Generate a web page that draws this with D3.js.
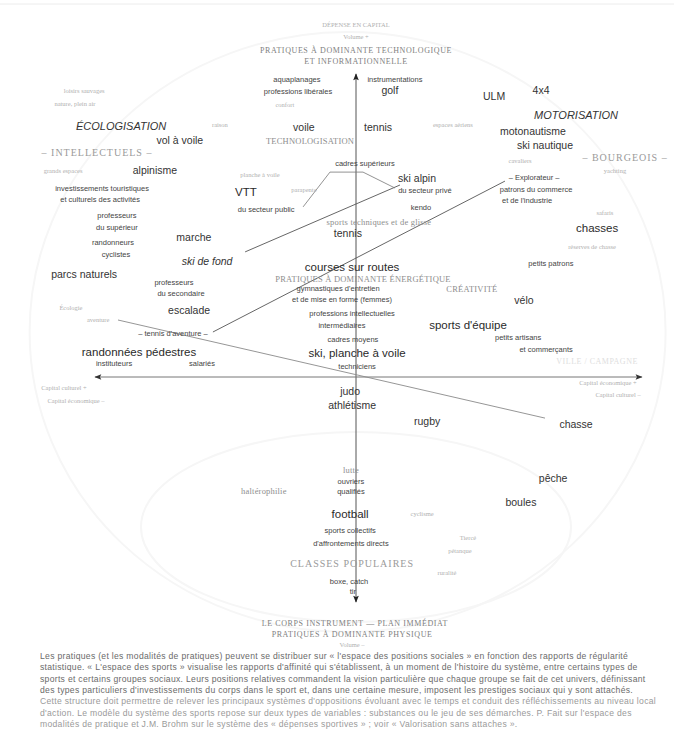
<!DOCTYPE html>
<html>
<head>
<meta charset="utf-8">
<script src="https://cdn.jsdelivr.net/npm/d3@7"></script>
<style>
	html, body { margin: 0; padding: 0; background: #fff; }
	svg { display: block; }
</style>
</head>
<body>
<svg id="espace-sports"></svg>
<script>
// l'espace des sports : chaque terme est placé sur les deux axes (capital culturel / économique, volume)
var termes = [
	"DÉPENSE EN CAPITAL", "Volume +", "PRATIQUES À DOMINANTE TECHNOLOGIQUE", "ET INFORMATIONNELLE",
	"aquaplanages", "instrumentations", "professions libérales", "golf", "ULM", "4x4",
	"loisirs sauvages", "nature, plein air", "confort", "MOTORISATION", "ÉCOLOGISATION", "raison",
	"voile", "tennis", "espaces aériens", "motonautisme", "vol à voile", "TECHNOLOGISATION",
	"ski nautique", "– INTELLECTUELS –", "– BOURGEOIS –", "cavaliers", "cadres supérieurs", "alpinisme",
	"grands espaces", "yachting", "planche à voile", "ski alpin", "– Explorateur –",
	"investissements touristiques", "VTT", "parapente", "du secteur privé", "patrons du commerce",
	"et culturels des activités", "et de l'industrie", "du secteur public", "kendo", "safaris",
	"professeurs", "sports techniques et de glisse", "du supérieur", "chasses", "tennis", "marche",
	"randonneurs", "réserves de chasse", "cyclistes", "ski de fond", "petits patrons",
	"courses sur routes", "parcs naturels", "PRATIQUES À DOMINANTE ÉNERGÉTIQUE", "professeurs",
	"gymnastiques d'entretien", "CRÉATIVITÉ", "du secondaire", "et de mise en forme (femmes)", "vélo",
	"Écologie", "escalade", "professions intellectuelles", "aventure", "sports d'équipe",
	"intermédiaires", "– tennis d'aventure –", "petits artisans", "cadres moyens",
	"randonnées pédestres", "ski, planche à voile", "et commerçants", "VILLE / CAMPAGNE",
	"instituteurs", "salariés", "techniciens", "Capital culturel +", "Capital économique –",
	"Capital économique +", "Capital culturel –", "judo", "athlétisme", "rugby", "chasse",
	"lutte", "ouvriers", "qualifiés", "haltérophilie", "pêche", "boules", "football", "cyclisme",
	"sports collectifs", "d'affrontements directs", "Tiercé", "pétanque", "ruralité",
	"CLASSES POPULAIRES", "boxe, catch", "tir",
	"LE CORPS INSTRUMENT — PLAN IMMÉDIAT", "PRATIQUES À DOMINANTE PHYSIQUE", "Volume –"
];

var coordX = [
	0, 0, 0, 0,
	-21.1, 13.9, -20.7, 12.1, 49.3, 66.1,
	-97.1, -100.4, -25.4, 78.6, -83.9, -48.6,
	-18.6, 7.9, 34.6, 63.2, -62.9, -16.4,
	67.5, -92.5, 96.1, 58.6, 3.2, -71.8,
	-104.6, 92.5, -34.3, 21.8, 63.6,
	-90.7, -39.3, -18.6, 24.6, 64.3,
	-91.4, 61.1, -32.1, 23.2, 88.9,
	-85.4, 8.2, -85.4, 86.1, -2.9, -57.9,
	-86.8, 84.3, -85.7, -53.2, 69.6,
	-1.4, -97.1, 2.5, -65,
	-6.4, 41.4, -62.5, -5, 60,
	-101.8, -59.6, -1.4, -92.1, 40,
	-5, -65.4, 57.9, -1.1,
	-77.5, 0.4, 67.9, 86.1,
	-86.4, -55, 0.4, -104.3, -100,
	90, 93.6, -2.1, -1.4, 25.4, 78.6,
	-1.8, -1.8, -1.8, -32.9, 70.4, 58.9, -2.1, 23.6,
	-2.1, -1.8, 40, 37.1, 32.5,
	-1.4, -2.5, -1.1,
	-0.4, -1.4, -1.4
];

var coordY = [
	117.3, 113.3, 109, 105.3,
	99.3, 99.3, 95.3, 95.7, 93.7, 95.7,
	95.3, 91, 90.7, 87.3, 83.7, 84,
	83.3, 83.3, 84, 82, 79, 78.7,
	77.3, 74.7, 73.3, 72, 71.3, 69,
	68.7, 68.7, 67.3, 66.3, 66.7,
	63, 61.7, 62.3, 62.3, 62.7,
	59.3, 59, 56, 56.7, 54.7,
	54, 51.7, 50, 49.7, 48, 46.7,
	45, 43.3, 41, 38.7, 38,
	36.7, 34.3, 32.7, 31.7,
	29.7, 29.3, 28, 26, 25.7,
	23, 22.3, 21.3, 19, 17.3,
	17.3, 14.7, 13.3, 12.7,
	8.3, 8, 9.3, 5.3,
	4.7, 4.7, 3.7, -3.7, -8,
	-2, -6, -4.7, -9.3, -14.7, -15.7,
	-31, -34.7, -38, -38, -33.7, -41.7, -45.7, -45.7,
	-51, -55.3, -53.7, -58, -65.3,
	-62.3, -68, -71.3,
	-82, -85.7, -89.3
];

// axe : titre d'axe, pole : classe sociale, tend : tendance, sport / sportL : pratiques,
// groupe : fraction de classe, pale : mention effacée, gris : titre secondaire
var genres = [
	"pale", "pale", "axe", "axe",
	"groupe", "groupe", "groupe", "sport", "sport", "sport",
	"pale", "pale", "pale", "tend", "tend", "pale",
	"sport", "sport", "pale", "sport", "sport", "gris",
	"sport", "pole", "pole", "pale", "groupe", "sport",
	"pale", "pale", "pale", "sport", "groupe",
	"groupe", "sportL", "pale", "groupe", "groupe",
	"groupe", "groupe", "groupe", "groupe", "pale",
	"groupe", "gris", "groupe", "sportL", "sport", "sport",
	"groupe", "pale", "groupe", "tendS", "groupe",
	"sportL", "sport", "gris", "groupe",
	"groupe", "gris", "groupe", "groupe", "sport",
	"pale", "sport", "groupe", "pale", "sportL",
	"groupe", "groupe", "groupe", "groupe",
	"sportL", "sportL", "groupe", "tresPale",
	"groupe", "groupe", "groupe", "pale", "pale",
	"pale", "pale", "sport", "sport", "sport", "sport",
	"gris", "groupe", "groupe", "gris", "sport", "sport", "sportL", "pale",
	"groupe", "groupe", "pale", "pale", "pale",
	"pole", "groupe", "groupe",
	"axe", "axe", "pale"
];

// traits qui relient les termes (mêmes unités que les coordonnées)
var traitSkiFond = [[-39.6, 41.7], [15.7, 64]];
var traitExplorateur = [[-51.1, 15], [53.2, 65.3]];
var traitAventure = [[-85, 19], [67.5, -13.7]];
var fourcheCadres = [[-18.9, 56.7], [-9.3, 68.3], [2.5, 68.3], [13.9, 63]];

var axeVertical = [-75, 101];
var axeHorizontal = [-93.2, 102.1];

var legende = [
	"Les pratiques (et les modalités de pratiques) peuvent se distribuer sur « l'espace des positions sociales » en fonction des rapports de régularité",
	"statistique. « L'espace des sports » visualise les rapports d'affinité qui s'établissent, à un moment de l'histoire du système, entre certains types de",
	"sports et certains groupes sociaux. Leurs positions relatives commandent la vision particulière que chaque groupe se fait de cet univers, définissant",
	"des types particuliers d'investissements du corps dans le sport et, dans une certaine mesure, imposent les prestiges sociaux qui y sont attachés.",
	"Cette structure doit permettre de relever les principaux systèmes d'oppositions évoluant avec le temps et conduit des réfléchissements au niveau local",
	"d'action. Le modèle du système des sports repose sur deux types de variables : substances ou le jeu de ses démarches. P. Fait sur l'espace des",
	"modalités de pratique et J.M. Brohm sur le système des « dépenses sportives » ; voir « Valorisation sans attaches »."
];

var width = 674,
		height = 749;

var styles = {
	axe: {size: 8, family: "'Liberation Serif', serif", fill: "#808080", spacing: 0.6},
	pale: {size: 6.5, family: "'Liberation Serif', serif", fill: "#b0b0b0", spacing: 0},
	tresPale: {size: 8, family: "'Liberation Serif', serif", fill: "#dedede", spacing: 0.5},
	gris: {size: 8.5, family: "'Liberation Serif', serif", fill: "#8e8e8e", spacing: 0.2},
	pole: {size: 10, family: "'Liberation Serif', serif", fill: "#9a9a9a", spacing: 1},
	tend: {size: 11, family: "'Liberation Sans', Arial, sans-serif", fill: "#333", spacing: 0, italic: true},
	tendS: {size: 10.5, family: "'Liberation Sans', Arial, sans-serif", fill: "#333", spacing: 0, italic: true},
	sport: {size: 10.5, family: "'Liberation Sans', Arial, sans-serif", fill: "#333", spacing: 0},
	sportL: {size: 11.5, family: "'Liberation Sans', Arial, sans-serif", fill: "#2a2a2a", spacing: 0},
	groupe: {size: 7.5, family: "'Liberation Sans', Arial, sans-serif", fill: "#444", spacing: 0}
};

var x = d3.scaleLinear().domain([-100, 100]).range([76, 636]);
var y = d3.scaleLinear().domain([-100, 100]).range([677, 77]);

var svg = d3.select("svg#espace-sports")
		.attr("width", width)
		.attr("height", height);

svg.append("rect")
		.attr("width", width)
		.attr("height", height)
		.attr("fill", "#fff");

var defs = svg.append("defs");
function fleche(id, couleur) {
	defs.append("marker")
			.attr("id", id)
			.attr("viewBox", "0 0 10 10")
			.attr("refX", 9)
			.attr("refY", 5)
			.attr("markerWidth", 10)
			.attr("markerHeight", 7)
			.attr("markerUnits", "userSpaceOnUse")
			.attr("orient", "auto-start-reverse")
			.append("path")
			.attr("d", "M0,1 L10,5 L0,9 L2,5 Z")
			.attr("fill", couleur);
}
fleche("fleche-v", "#222");
fleche("fleche-h", "#333");

// bord de page et ovales du scan, à peine visibles
svg.append("line")
		.attr("x1", 0).attr("x2", width)
		.attr("y1", 4).attr("y2", 4)
		.attr("stroke", "#ececec");

svg.append("ellipse")
		.attr("cx", x(-3)).attr("cy", y(15))
		.attr("rx", 318).attr("ry", 300)
		.attr("fill", "none")
		.attr("stroke", "#f6f6f6")
		.attr("stroke-width", 2);

svg.append("ellipse")
		.attr("cx", x(0)).attr("cy", y(-50))
		.attr("rx", 215).attr("ry", 95)
		.attr("fill", "none")
		.attr("stroke", "#f6f6f6")
		.attr("stroke-width", 2);

// axes
svg.append("line")
		.attr("x1", x(0)).attr("x2", x(0))
		.attr("y1", y(axeVertical[0])).attr("y2", y(axeVertical[1]))
		.attr("stroke", "#555")
		.attr("stroke-width", 1)
		.attr("marker-start", "url(#fleche-v)")
		.attr("marker-end", "url(#fleche-v)");

svg.append("line")
		.attr("x1", x(axeHorizontal[0])).attr("x2", x(axeHorizontal[1]))
		.attr("y1", y(0)).attr("y2", y(0))
		.attr("stroke", "#777")
		.attr("stroke-width", 1)
		.attr("marker-start", "url(#fleche-h)")
		.attr("marker-end", "url(#fleche-h)");

var ligne = d3.line()
		.x(function (d) { return x(d[0]); })
		.y(function (d) { return y(d[1]); });

[
	{pts: traitSkiFond, color: "#555", w: 0.9},
	{pts: traitExplorateur, color: "#555", w: 0.9},
	{pts: traitAventure, color: "#8a8a8a", w: 0.9},
	{pts: fourcheCadres, color: "#777", w: 0.8}
].forEach(function (t) {
	svg.append("path")
			.attr("d", ligne(t.pts))
			.attr("fill", "none")
			.attr("stroke", t.color)
			.attr("stroke-width", t.w);
});

// les termes
var points = termes.map(function (t, i) {
	return {texte: t, vx: coordX[i], vy: coordY[i], genre: genres[i]};
});

svg.append("g")
		.attr("class", "termes")
		.selectAll("text")
		.data(points)
		.enter()
		.append("text")
		.attr("x", function (d) { return x(d.vx); })
		.attr("y", function (d) { return y(d.vy); })
		.attr("dy", "0.35em")
		.attr("text-anchor", "middle")
		.attr("font-family", function (d) { return styles[d.genre].family; })
		.attr("font-size", function (d) { return styles[d.genre].size; })
		.attr("font-style", function (d) { return styles[d.genre].italic ? "italic" : "normal"; })
		.attr("letter-spacing", function (d) { return styles[d.genre].spacing; })
		.attr("fill", function (d) { return styles[d.genre].fill; })
		.text(function (d) { return d.texte; });

// texte sous la figure
svg.append("g")
		.attr("class", "legende")
		.selectAll("text")
		.data(legende)
		.enter()
		.append("text")
		.attr("x", 40)
		.attr("y", function (d, i) { return 659 + i * 11.3; })
		.attr("font-family", "'Liberation Sans', Arial, sans-serif")
		.attr("font-size", 8.6)
		.attr("letter-spacing", 0.3)
		.attr("fill", function (d, i) { return i < 4 ? "#6a6a6a" : "#9a9a9a"; })
		.text(function (d) { return d; });
</script>
</body>
</html>
